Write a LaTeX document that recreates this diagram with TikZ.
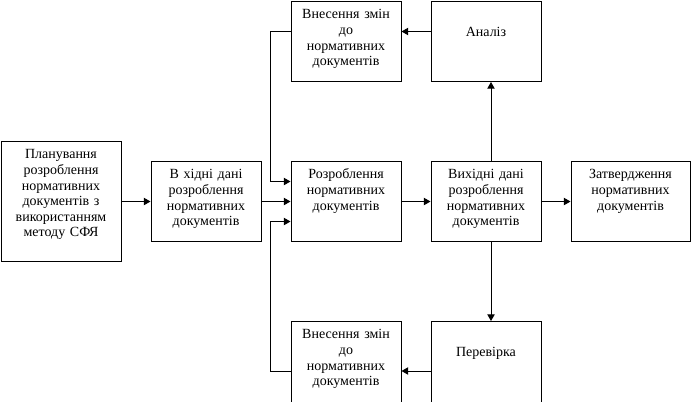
\documentclass[tikz,border=0pt]{standalone}
\usepackage{fontspec}
\setmainfont{Liberation Serif}
\usetikzlibrary{arrows.meta,positioning,calc}

\begin{document}
\begin{tikzpicture}[
  x=0.75pt, y=-0.75pt,
  >={Triangle[length=5pt,width=5.5pt]},
  blk/.style={
    draw=black, line width=0.75pt,
    anchor=north, align=center,
    inner xsep=2pt, inner ysep=0pt,
    text width=78.5pt,
    text height=13pt, text depth=47pt,
    font=\fontsize{10.5}{11.7}\selectfont
  },
  wide/.style={text width=86pt},
  tall/.style={text depth=77pt},
  low/.style={text height=26pt, text depth=34pt},
  cut/.style={text depth=53pt},
  conn/.style={->, line width=0.75pt}
]
\useasboundingbox (0,0) rectangle (691,401);

% Середній ряд --- основний процес
\node[blk, wide, tall] (plan) at (61,141)
  {Планування\\розроблення\\нормативних\\документів з\\використанням\\методу СФЯ};
\node[blk] (inp) at (206,161)
  {В хідні дані\\розроблення\\нормативних\\документів};
\node[blk] (dev) at (346,161)
  {Розроблення\\нормативних\\документів};
\node[blk] (out) at (486,161)
  {Вихідні дані\\розроблення\\нормативних\\документів};
\node[blk, text width=85.25pt] (appr) at (630.5,161)
  {Затвердження\\нормативних\\документів};

% Верхній ряд --- аналіз
\node[blk] (chgtop) at (346,1)
  {Внесення змін\\до\\нормативних\\документів};
\node[blk, low] (anl) at (486,1) {Аналіз};

% Нижній ряд --- перевірка
\node[blk, cut] (chgbot) at (346,321)
  {Внесення змін\\до\\нормативних\\документів};
\node[blk, low, text depth=40pt] (chk) at (486,321) {Перевірка};

% Зв'язки
\draw[conn] (plan) -- (inp);
\draw[conn] (inp) -- (dev);
\draw[conn] (dev) -- (out);
\draw[conn] (out) -- (appr);
\draw[conn] ([xshift=3.75pt]out.north) -- ([xshift=3.75pt]anl.south);
\draw[conn] ([xshift=3.75pt]out.south) -- ([xshift=3.75pt]chk.north);
\draw[conn] ([yshift=7.5pt]anl.west) -- ([yshift=7.5pt]chgtop.east);
\draw[conn] ([yshift=-37.5pt]chk.north west) -- ([yshift=-37.5pt]chgbot.north east);
\draw[conn] ([yshift=7.5pt]chgtop.west) -- ++(-20,0) |- ([yshift=15pt]dev.west);
\draw[conn] ([yshift=-37.5pt]chgbot.north west) -- ++(-20,0) |- ([yshift=-15pt]dev.west);
\end{tikzpicture}
\end{document}
